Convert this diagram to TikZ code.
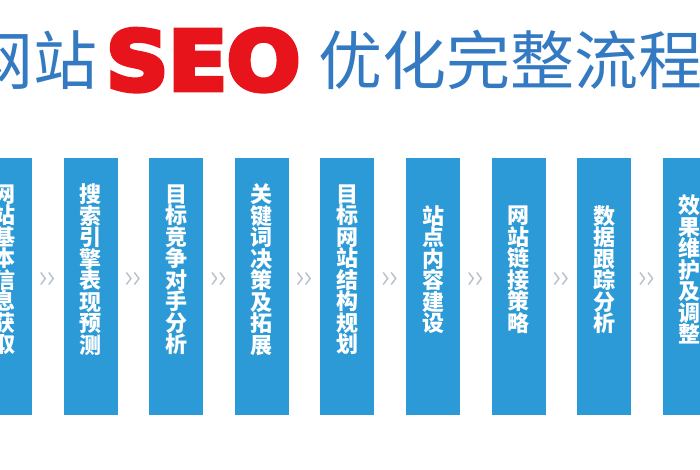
\documentclass[tikz,border=0pt]{standalone}
\usepackage{fontspec}
\usepackage{graphicx}
\newfontfamily\cjk{Noto Sans CJK SC}
\newfontfamily\seofont[FakeBold=6]{DejaVu Sans}
\XeTeXlinebreaklocale "zh"
\XeTeXlinebreakskip=0pt plus 1pt

\definecolor{titleblue}{RGB}{52,122,194}
\definecolor{seored}{RGB}{232,20,27}
\definecolor{boxblue}{RGB}{44,154,214}
\definecolor{chevgray}{RGB}{182,192,204}

\tikzset{
  titletext/.style={text=titleblue, font=\cjk\fontsize{64}{64}\selectfont, inner sep=0pt},
  seotext/.style={text=seored, font=\seofont\bfseries\fontsize{82}{82}\selectfont, inner sep=0pt},
  stepbox/.style={fill=boxblue, minimum width=54pt, minimum height=257pt, inner sep=0pt},
  steptext/.style={text=white, font=\cjk\bfseries\fontsize{22}{21.5}\selectfont, text width=23pt, align=center, inner sep=0pt},
  chev/.style={draw=chevgray, line width=1.4pt},
}

\begin{document}
\begin{tikzpicture}[x=1pt,y=-1pt]
\useasboundingbox[fill=white] (0,0) rectangle (700,470);
% title
\node[titletext, anchor=east] (head1) at (98,60) {网站};
\node[seotext, anchor=base west] (seo) at (106,90) {\scalebox{1.05}[1]{SEO}};
\node[titletext, anchor=west] (head2) at (318,60) {优化完整流程};
% steps
\foreach \txt [count=\i] in {网站基本信息获取,搜索引擎表现预测,目标竞争对手分析,关键词决策及拓展,目标网站结构规划,站点内容建设,网站链接策略,数据跟踪分析,效果维护及调整}{
  \node[stepbox] (b\i) at ({85.6*\i-80.6},286.5) {};
  \node[steptext] (s\i) at ([yshift=17pt]b\i.center) {\txt};
}
% chevrons between the steps
\foreach \i [count=\j from 2] in {1,...,8}{
  \path (b\i.east) -- (b\j.west) coordinate[midway,yshift=8pt] (m\i);
  \draw[chev] ([xshift=-7pt,yshift=6pt]m\i) -- ++(4.5pt,-6pt) -- ++(-4.5pt,-6pt);
  \draw[chev] ([xshift=1pt,yshift=6pt]m\i) -- ++(4.5pt,-6pt) -- ++(-4.5pt,-6pt);
}
\end{tikzpicture}
\end{document}
